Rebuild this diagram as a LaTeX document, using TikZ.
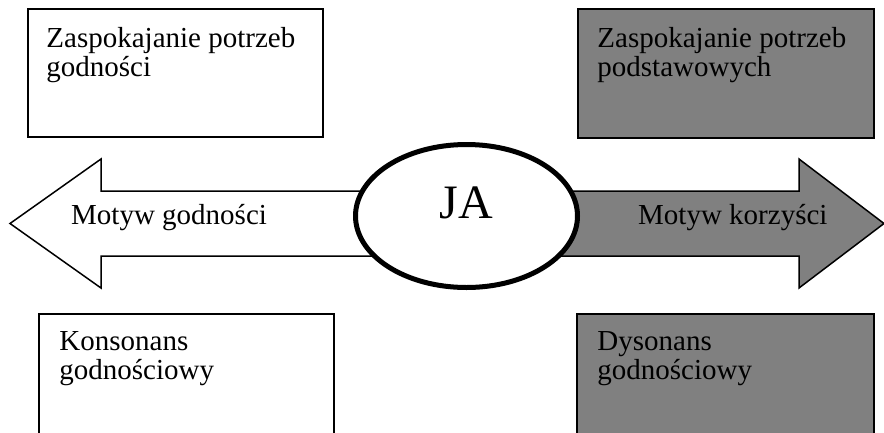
\documentclass[tikz,border=0pt]{standalone}
\usepackage{fontspec}
\setmainfont{Liberation Serif}
\usetikzlibrary{positioning,shapes.geometric}
\definecolor{boxgrey}{RGB}{128,128,128}

\begin{document}
\begin{tikzpicture}[x=1pt,y=-1pt,
   cell/.style={draw,line width=1.5pt,minimum width=295pt,minimum height=128pt,inner sep=0pt},
   txt/.style={inner sep=0pt,align=left,font=\fontsize{29}{29}\selectfont},
   arr/.style={draw,line width=1.5pt,line join=miter}]
  \useasboundingbox (0,0) rectangle (884,432);
  % four boxes
  \node[cell] (zg) at (175.5,73) {};
  \node[cell,fill=boxgrey,minimum width=296pt,minimum height=129pt] (zp) at (726,73.5) {};
  \node[cell,minimum height=130pt] (kg) at (186.5,379) {};
  \node[cell,fill=boxgrey,minimum width=297pt,minimum height=130pt] (dg) at (725.5,379) {};
  \node[txt,below right=18.5pt and 19pt of zg.north west] (zgt) {Zaspokajanie potrzeb\\godności};
  \node[txt,below right=18.5pt and 20pt of zp.north west] (zpt) {Zaspokajanie potrzeb\\podstawowych};
  \node[txt,below right=18.5pt and 21pt of kg.north west] (kgt) {Konsonans\\godnościowy};
  \node[txt,below right=18.5pt and 21pt of dg.north west] (dgt) {Dysonans\\godnościowy};
  % two arrows
  \draw[arr,fill=white] (10,223.5) -- (101,159) -- (101,191) -- (420,191) -- (420,256)
       -- (101,256) -- (101,288) -- cycle;
  \draw[arr,fill=boxgrey] (520,191) -- (799,191) -- (799,159) -- (884,223.5) -- (799,288)
       -- (799,256) -- (520,256) -- cycle;
  \node[txt,anchor=base west] (mg) at (71,224) {Motyw godności};
  \node[txt,anchor=base west] (mk) at (638,224) {Motyw korzyści};
  % self
  \node[ellipse,draw,line width=5pt,fill=white,minimum width=222pt,minimum height=143pt,
        inner sep=0pt,text height=32pt,text depth=28pt,font=\fontsize{48}{48}\selectfont]
       (ja) at (466.5,216) {JA};
\end{tikzpicture}
\end{document}
